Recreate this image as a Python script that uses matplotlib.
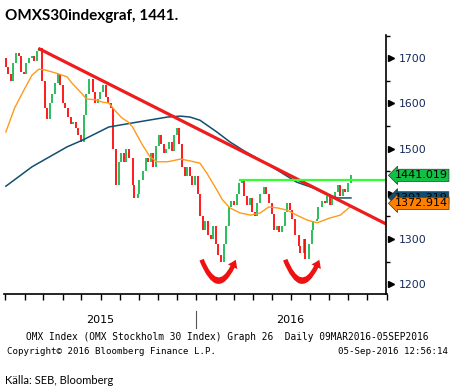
import numpy as np
import pandas as pd
import matplotlib
matplotlib.use('Agg')
import matplotlib.pyplot as plt
import matplotlib.dates as mdates
from matplotlib.patches import FancyArrowPatch

# closes sampled every ~3 trading days, Mar 2015 - Sep 2016
first_open = 1700
closes = [1680, 1665, 1650, 1690, 1712, 1705, 1670, 1665, 1690, 1700,
          1705, 1695, 1715, 1722, 1650, 1590, 1565, 1600, 1620, 1645,
          1665, 1640, 1600, 1590, 1570, 1555, 1560, 1545, 1530, 1515,
          1575, 1620, 1655, 1625, 1600, 1610, 1625, 1640, 1615, 1600,
          1590, 1500, 1420, 1470, 1490, 1470, 1500, 1480, 1420, 1390,
          1400, 1430, 1450, 1480, 1470, 1490, 1460, 1505, 1530, 1510,
          1490, 1500, 1515, 1495, 1530, 1545, 1510, 1460, 1440, 1460,
          1440, 1420, 1440, 1400, 1350, 1320, 1340, 1310, 1300, 1330,
          1290, 1265, 1250, 1290, 1330, 1370, 1385, 1375, 1400, 1425,
          1430, 1395, 1375, 1390, 1360, 1350, 1380, 1400, 1415, 1400,
          1380, 1355, 1320, 1330, 1315, 1330, 1360, 1380, 1365, 1345,
          1310, 1285, 1270, 1300, 1255, 1290, 1320, 1340, 1345, 1370,
          1385, 1380, 1395, 1375, 1390, 1405, 1420, 1395, 1410, 1405,
          1425, 1441]

ma50_dates = ['2015-03-02', '2015-03-16', '2015-03-31', '2015-04-13', '2015-04-24',
              '2015-05-04', '2015-05-22', '2015-06-08', '2015-06-16', '2015-07-01',
              '2015-07-09', '2015-07-24', '2015-08-04', '2015-08-14', '2015-08-26',
              '2015-09-04', '2015-09-14', '2015-09-21', '2015-10-07', '2015-10-19',
              '2015-10-30', '2015-11-16', '2015-12-07', '2015-12-22', '2016-01-07',
              '2016-01-18', '2016-02-03', '2016-02-12', '2016-02-24', '2016-03-11',
              '2016-03-28', '2016-04-13', '2016-04-26', '2016-05-10', '2016-05-26',
              '2016-06-10', '2016-06-27', '2016-07-13', '2016-08-03', '2016-08-19',
              '2016-09-05']
ma50 = [1537, 1590, 1630, 1663, 1676, 1674, 1667, 1659, 1645, 1623,
        1610, 1608, 1603, 1601, 1581, 1568, 1559, 1548, 1508, 1482,
        1471, 1471, 1477, 1473, 1468, 1446, 1409, 1387, 1369, 1358,
        1353, 1358, 1371, 1369, 1364, 1353, 1342, 1336, 1347, 1353,
        1373]

ma200_dates = ['2015-03-02', '2015-04-13', '2015-06-08', '2015-07-03', '2015-08-14',
               '2015-09-21', '2015-11-16', '2015-12-07', '2015-12-22', '2016-01-07',
               '2016-02-03', '2016-02-24', '2016-03-18', '2016-04-29', '2016-06-10',
               '2016-07-07', '2016-07-29', '2016-08-15', '2016-09-05']
ma200 = [1417, 1460, 1504, 1519, 1548, 1557, 1570, 1572, 1570, 1563,
         1537, 1515, 1495, 1462, 1426, 1413, 1398, 1391, 1391]

trend_dates = ['2015-04-23', '2016-11-01']
trend_vals = [1722, 1333]
resist_dates = ['2016-03-11', '2016-11-01']
resist_val = 1431

last_vals = [1441.019, 1391.319, 1372.914]
last_txt = ['1441.019', '1391.319', '1372.914']
last_cols = ['#12c044', '#124e6e', '#ff8000']

yticks = [1200, 1300, 1400, 1500, 1600, 1700]
ylabs = ['1200', '1300', '', '1500', '1600', '1700']

bdays = pd.bdate_range('2015-03-02', '2016-09-05')
idx = np.linspace(0, len(bdays) - 1, len(closes)).round().astype(int)
bar_dates = bdays[idx]
opens = [first_open] + closes[:-1]
lo = np.minimum(opens, closes)
hi = np.maximum(opens, closes)
cols = ['#12b548' if c >= o else '#ff0000' for o, c in zip(opens, closes)]

fig = plt.figure(figsize=(4.56, 3.91), dpi=100)
ax = fig.add_axes([4 / 456, 1 - 294 / 391, 382.5 / 456, 259 / 391])

ax.vlines(bar_dates, lo, hi, colors=cols, lw=1.25)
ax.plot(pd.to_datetime(ma200_dates), ma200, color='#124e6e', lw=1.1)
ax.plot(pd.to_datetime(ma50_dates), ma50, color='#ff9a1a', lw=1.0)
ax.plot(pd.to_datetime(trend_dates), trend_vals, color='#ee1c1c', lw=2.3, solid_capstyle='butt')
ax.plot(pd.to_datetime(resist_dates), [resist_val] * 2, color='#33ff33', lw=1.6)

# u-turn arrows
for a, b in [('2016-01-08', '2016-03-06'), ('2016-05-21', '2016-07-18')]:
    arr = FancyArrowPatch((mdates.datestr2num(a), 1260), (mdates.datestr2num(b), 1260),
                          connectionstyle='arc3,rad=1.3',
                          arrowstyle='simple,head_width=7.5,head_length=5.5,tail_width=3.3',
                          color='#ee1111', lw=0)
    ax.add_patch(arr)

ax.set_xlim(mdates.datestr2num('2015-02-27'), mdates.datestr2num('2016-11-01'))
ax.set_ylim(1178.5, 1751.5)

ax.spines['top'].set_visible(False)
ax.spines['left'].set_visible(False)
ax.spines['right'].set_linewidth(1.2)
ax.spines['bottom'].set_linewidth(1.2)

ax.xaxis.set_major_locator(mdates.MonthLocator())
ax.xaxis.set_major_formatter(plt.NullFormatter())
ax.tick_params(axis='x', direction='out', length=4, width=1)

ax.yaxis.tick_right()
ax.set_yticks(yticks)
ax.set_yticklabels(ylabs)
ax.set_yticks(np.arange(1200, 1751, 50), minor=True)
ax.tick_params(axis='y', which='major', length=0, pad=9, labelsize=7.8, labelcolor='#14285a')
ax.tick_params(axis='y', which='minor', direction='out', length=3, width=1)
ax.plot([1.012] * len(yticks), yticks, transform=ax.get_yaxis_transform(), marker='>',
        ls='none', color='black', ms=5, clip_on=False)

# last value labels
offs = [0, 0, 2]
for v, t, c, o in zip(last_vals, last_txt, last_cols, offs):
    ax.annotate(t, xy=(1.0, v), xycoords=ax.get_yaxis_transform(),
                xytext=(6, o), textcoords='offset points', va='center', ha='left',
                fontsize=8, color='black',
                bbox=dict(boxstyle='larrow,pad=0.1', fc=c, ec='#333333', lw=0.5),
                annotation_clip=False)

# year labels
fig.text(100 / 456, 1 - 320 / 391, '2015', ha='center', va='center', fontsize=8)
fig.text(290 / 456, 1 - 320 / 391, '2016', ha='center', va='center', fontsize=8)
fig.add_artist(plt.Line2D([196 / 456] * 2, [1 - 311 / 391, 1 - 328 / 391], color='#555555', lw=0.8))

fig.text(227 / 456, 1 - 337 / 391,
         'OMX Index (OMX Stockholm 30 Index) Graph 26  Daily 09MAR2016-05SEP2016',
         ha='center', va='center', fontsize=6.85, family='DejaVu Sans Mono')
fig.text(7 / 456, 1 - 351 / 391, 'Copyright\u00a9 2016 Bloomberg Finance L.P.',
         ha='left', va='center', fontsize=6.6, family='DejaVu Sans Mono')
fig.text(448 / 456, 1 - 351 / 391, '05-Sep-2016 12:56:14',
         ha='right', va='center', fontsize=6.6, family='DejaVu Sans Mono')

fig.text(5 / 456, 1 - 381 / 391, 'Källa: SEB, Bloomberg', ha='left', va='center',
         fontsize=8, family=['Lato', 'DejaVu Sans'])
fig.text(5 / 456, 1 - 16 / 391, 'OMXS30indexgraf, 1441.', ha='left', va='center',
         fontsize=11, fontweight='bold', family=['Lato', 'DejaVu Sans'])

fig.savefig('out.png', dpi=100)
